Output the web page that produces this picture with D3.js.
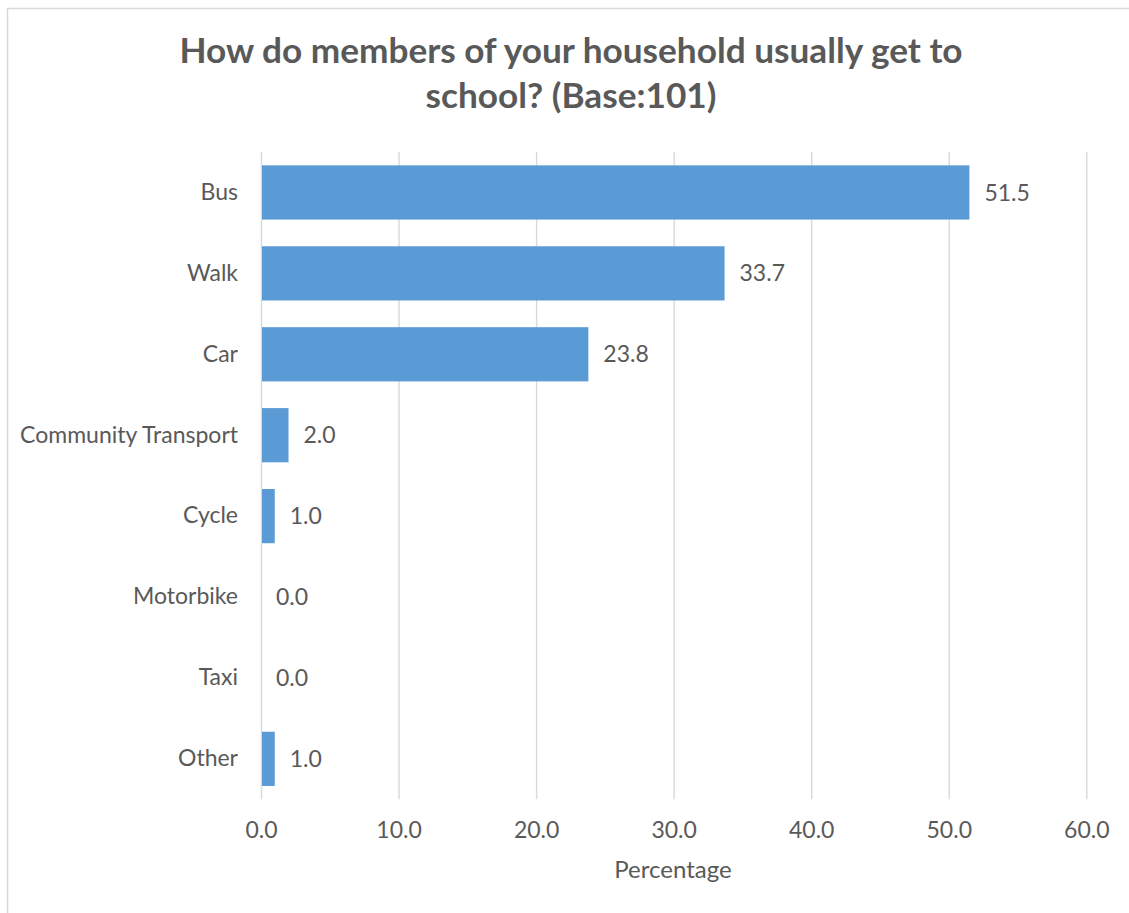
<!DOCTYPE html>
<html><head><meta charset="utf-8">
<script src="https://cdn.jsdelivr.net/npm/d3@7"></script>
<style>
html,body{margin:0;padding:0;background:#fff;}
svg{display:block;font-family:Lato,"Open Sans",sans-serif;}
</style></head>
<body><svg id="chart" width="1129" height="913"></svg>
<script>
const categories = ["Bus","Walk","Car","Community Transport","Cycle","Motorbike","Taxi","Other"];
const values = [51.5, 33.7, 23.8, 2.0, 1.0, 0.0, 0.0, 1.0];
const xTicks = [0,10,20,30,40,50,60];
const titleLines = ["How do members of your household usually get to","school? (Base:101)"];
const xTitle = "Percentage";

const svg = d3.select("#chart");
const textColor = "#595959", gridColor = "#D9D9D9", barColor = "#5B9BD5";
const m = {left:261, right:1129-1086.3, top:152, bottom:913-799.3};
const W = 1129, H = 913;
const fs = 23;

// outer chart border
svg.append("rect").attr("x",7.5).attr("y",8.5).attr("width",W+20).attr("height",H+20)
  .attr("fill","none").attr("stroke",gridColor).attr("stroke-width",1.5);

const x = d3.scaleLinear().domain([0,60]).range([m.left, W-m.right]);
const y = d3.scaleBand().domain(categories).range([m.top, H-m.bottom]).paddingInner(0.33).paddingOuter(0.165);

// title
const t = svg.append("text").attr("text-anchor","middle").attr("fill",textColor)
  .attr("font-weight","bold").attr("font-size",35.2);
titleLines.forEach((l,i)=>t.append("tspan").attr("x",571).attr("y",63+i*44.5).text(l));

// gridlines
const xAxis = d3.axisBottom(x).tickValues(xTicks).tickSize(-(H-m.bottom-m.top)).tickSizeOuter(0)
  .tickFormat(d3.format(".1f")).tickPadding(0);
const gx = svg.append("g").attr("transform",`translate(0,${H-m.bottom})`).call(xAxis);
gx.select(".domain").remove();
gx.selectAll(".tick line").attr("stroke",gridColor).attr("stroke-width",1.4);
gx.selectAll(".tick text").attr("fill",textColor).attr("font-size",fs).attr("dy",null).attr("y",38.5)
  .attr("font-family","Lato,'Open Sans',sans-serif");

// bars
svg.append("g").selectAll("rect").data(categories).join("rect")
  .attr("x",x(0)+1).attr("y",d=>y(d))
  .attr("width",(d,i)=>Math.max(0,x(values[i])-x(0)-1))
  .attr("height",y.bandwidth()).attr("fill",barColor);

// y labels
const yAxis = d3.axisLeft(y).tickSize(0).tickPadding(23);
const gy = svg.append("g").attr("transform",`translate(${m.left},0)`).call(yAxis);
gy.select(".domain").remove();
gy.selectAll(".tick text").attr("fill",textColor).attr("font-size",fs)
  .attr("font-family","Lato,'Open Sans',sans-serif");

// value labels
svg.append("g").selectAll("text").data(categories).join("text")
  .attr("x",(d,i)=>x(values[i])+15).attr("y",d=>y(d)+y.bandwidth()/2).attr("dy","0.35em")
  .attr("fill",textColor).attr("font-size",fs).text((d,i)=>d3.format(".1f")(values[i]));

// axis title
svg.append("text").attr("x",673).attr("y",878).attr("text-anchor","middle")
  .attr("fill",textColor).attr("font-size",fs+1).text(xTitle);
</script></body></html>
